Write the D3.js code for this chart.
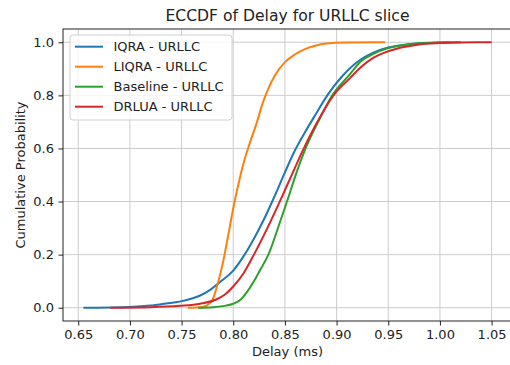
<!DOCTYPE html>
<html>
<head>
<meta charset="utf-8">
<script src="https://cdn.jsdelivr.net/npm/d3@7"></script>
<style>
  body { margin: 0; background: #fff; }
  svg { display: block; font-family: "DejaVu Sans", sans-serif; }
</style>
</head>
<body>
<div id="chart"></div>
<script>
// values: [delay (ms), cumulative probability]
const iqraPoints = [
  [0.655, 0], [0.70, 0.003], [0.72, 0.008], [0.735, 0.016], [0.748, 0.023],
  [0.76, 0.035], [0.768, 0.046], [0.778, 0.068], [0.7875, 0.098], [0.80, 0.14],
  [0.811, 0.20], [0.82, 0.26], [0.83, 0.335], [0.84, 0.42], [0.85, 0.51],
  [0.86, 0.595], [0.87, 0.665], [0.88, 0.73], [0.891, 0.80], [0.905, 0.87],
  [0.9226, 0.933], [0.935, 0.96], [0.95, 0.98], [0.965, 0.99], [0.98, 0.996],
  [1.00, 0.999], [1.02, 1.0]
];
const liqraPoints = [
  [0.756, 0], [0.77, 0.003], [0.775, 0.01], [0.78, 0.03], [0.785, 0.09],
  [0.79, 0.17], [0.795, 0.27], [0.80, 0.375], [0.805, 0.465], [0.81, 0.545],
  [0.816, 0.62], [0.823, 0.70], [0.828, 0.765], [0.835, 0.835], [0.84, 0.873],
  [0.85, 0.925], [0.86, 0.955], [0.87, 0.975], [0.88, 0.988], [0.89, 0.995],
  [0.91, 0.999], [0.947, 1.0]
];
const baselinePoints = [
  [0.766, 0], [0.78, 0.002], [0.79, 0.006], [0.80, 0.015], [0.807, 0.03],
  [0.813, 0.058], [0.82, 0.10], [0.826, 0.142], [0.834, 0.20], [0.845, 0.32],
  [0.852, 0.40], [0.86, 0.495], [0.87, 0.60], [0.884, 0.715], [0.895, 0.795],
  [0.913, 0.88], [0.9226, 0.925], [0.935, 0.955], [0.95, 0.978], [0.965, 0.99],
  [0.98, 0.996], [1.00, 0.999], [1.01, 1.0]
];
const drluaPoints = [
  [0.681, 0], [0.72, 0.002], [0.748, 0.007], [0.768, 0.015], [0.784, 0.032],
  [0.792, 0.05], [0.80, 0.08], [0.81, 0.13], [0.82, 0.20], [0.833, 0.30],
  [0.845, 0.40], [0.856, 0.495], [0.867, 0.59], [0.88, 0.69], [0.897, 0.80],
  [0.913, 0.865], [0.9226, 0.903], [0.935, 0.94], [0.95, 0.966], [0.965, 0.982],
  [0.98, 0.992], [1.00, 0.997], [1.02, 0.999], [1.05, 1.0]
];

const seriesNames = ['IQRA - URLLC', 'LIQRA - URLLC', 'Baseline - URLLC', 'DRLUA - URLLC'];
const seriesColors = ['#1f77b4', '#ff7f0e', '#2ca02c', '#d62728'];
const xTicks = [0.65, 0.70, 0.75, 0.80, 0.85, 0.90, 0.95, 1.00, 1.05];
const yTicks = [0, 0.2, 0.4, 0.6, 0.8, 1.0];

const series = [iqraPoints, liqraPoints, baselinePoints, drluaPoints];

const width = 510, height = 365;
const plot = { left: 63, right: 512, top: 29, bottom: 321 };

const svg = d3.select('#chart')
  .append('svg')
  .attr('width', width)
  .attr('height', height);

svg.append('rect').attr('width', width).attr('height', height).attr('fill', '#fff');

const x = d3.scaleLinear().domain([0.63525, 1.06975]).range([plot.left, plot.right]);
const y = d3.scaleLinear().domain([-0.05, 1.05]).range([plot.bottom, plot.top]);

// grid
const grid = svg.append('g').attr('stroke', '#cccccc').attr('stroke-width', 1);
grid.selectAll('.gx').data(xTicks).enter().append('line')
  .attr('x1', d => x(d)).attr('x2', d => x(d))
  .attr('y1', plot.top).attr('y2', plot.bottom);
grid.selectAll('.gy').data(yTicks).enter().append('line')
  .attr('x1', plot.left).attr('x2', plot.right)
  .attr('y1', d => y(d)).attr('y2', d => y(d));

// axes
const xAxis = svg.append('g')
  .attr('transform', `translate(0,${plot.bottom})`)
  .call(d3.axisBottom(x).tickValues(xTicks).tickFormat(d3.format('.2f'))
    .tickSize(4.5).tickPadding(4.5).tickSizeOuter(0));

const yAxis = svg.append('g')
  .attr('transform', `translate(${plot.left},0)`)
  .call(d3.axisLeft(y).tickValues(yTicks).tickFormat(d3.format('.1f'))
    .tickSize(4.5).tickPadding(4.5).tickSizeOuter(0));

[xAxis, yAxis].forEach(ax => {
  ax.select('.domain').remove();
  ax.selectAll('.tick line').attr('stroke', '#222').attr('stroke-width', 1);
  ax.selectAll('.tick text')
    .attr('fill', '#222')
    .style('font-family', '"DejaVu Sans", sans-serif')
    .style('font-size', '13px');
});

// lines
const line = d3.line()
  .x(d => x(d[0]))
  .y(d => y(d[1]))
  .curve(d3.curveMonotoneX);

series.forEach((pts, i) => {
  svg.append('path')
    .datum(pts)
    .attr('fill', 'none')
    .attr('stroke', seriesColors[i])
    .attr('stroke-width', 2)
    .attr('stroke-linejoin', 'round')
    .attr('d', line);
});

// spines
svg.append('rect')
  .attr('x', plot.left).attr('y', plot.top)
  .attr('width', plot.right - plot.left).attr('height', plot.bottom - plot.top)
  .attr('fill', 'none').attr('stroke', '#222').attr('stroke-width', 1);

// title and labels
svg.append('text')
  .attr('x', (plot.left + plot.right) / 2).attr('y', 21)
  .attr('text-anchor', 'middle')
  .attr('fill', '#222')
  .style('font-size', '15.6px')
  .text('ECCDF of Delay for URLLC slice');

svg.append('text')
  .attr('x', (plot.left + plot.right) / 2).attr('y', 356)
  .attr('text-anchor', 'middle')
  .attr('fill', '#222')
  .style('font-size', '13px')
  .text('Delay (ms)');

svg.append('text')
  .attr('transform', `translate(25,${(plot.top + plot.bottom) / 2}) rotate(-90)`)
  .attr('text-anchor', 'middle')
  .attr('fill', '#222')
  .style('font-size', '13px')
  .text('Cumulative Probability');

// legend
const legend = svg.append('g').attr('transform', 'translate(70,35)');
legend.append('rect')
  .attr('width', 162).attr('height', 85)
  .attr('rx', 3)
  .attr('fill', '#fff').attr('fill-opacity', 0.8)
  .attr('stroke', '#d0d0d0').attr('stroke-width', 1);

seriesNames.forEach((name, i) => {
  const cy = 11.7 + i * 20;
  legend.append('line')
    .attr('x1', 5).attr('x2', 33)
    .attr('y1', cy).attr('y2', cy)
    .attr('stroke', seriesColors[i]).attr('stroke-width', 2);
  legend.append('text')
    .attr('x', 43.5).attr('y', cy).attr('dy', '0.36em')
    .attr('fill', '#222')
    .style('font-size', '13px')
    .text(name);
});
</script>
</body>
</html>
